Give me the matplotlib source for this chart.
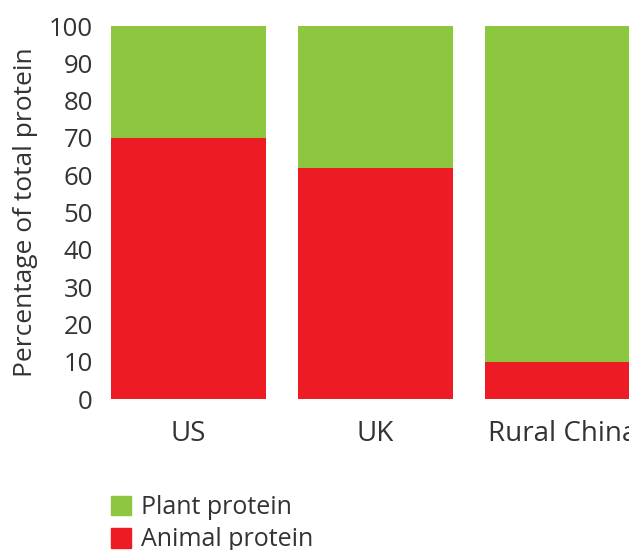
import matplotlib.pyplot as plt
from matplotlib.patches import Patch

plt.rcParams['font.family'] = ['Open Sans', 'DejaVu Sans']

regions = ["US", "UK", "Rural China"]
animal = [70, 62, 10]
plant = [30, 38, 90]

red = "#ED1C24"
green = "#8DC63F"
text_col = "#333333"

fig = plt.figure(figsize=(6.29, 5.5), dpi=100)
ax = fig.add_axes([0.151, 0.2745, 0.892, 0.6782])

x = range(len(regions))
ax.bar(x, animal, width=0.83, color=red)
ax.bar(x, plant, width=0.83, bottom=animal, color=green)

ax.set_xlim(-0.5, 2.5)
ax.set_ylim(0, 100)
ax.set_yticks(range(0, 101, 10))
ax.set_xticks(list(x))
ax.set_xticklabels(regions)
for s in ax.spines.values():
    s.set_visible(False)
ax.tick_params(axis="y", length=0, pad=1.5, labelsize=18.5, labelcolor=text_col)
ax.tick_params(axis="x", length=0, pad=15, labelsize=20, labelcolor=text_col)
ax.set_ylabel("Percentage of total protein", fontsize=19, color=text_col, labelpad=8)

handles = [Patch(color=green, label="Plant protein"),
           Patch(color=red, label="Animal protein")]
fig.legend(handles=handles, loc="upper left", bbox_to_anchor=(0.176, 0.1),
           frameon=False, fontsize=18, handlelength=0.82, handleheight=0.82,
           handletextpad=0.4, labelspacing=0.3, borderaxespad=0, borderpad=0,
           labelcolor=text_col)

fig.savefig("out.png", dpi=100)
